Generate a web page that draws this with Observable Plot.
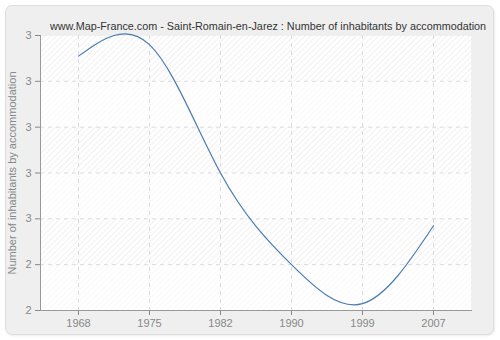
<!DOCTYPE html>
<html>
<head>
<meta charset="utf-8">
<script src="https://cdn.jsdelivr.net/npm/d3@7"></script>
<script src="https://cdn.jsdelivr.net/npm/@observablehq/plot@0.6"></script>
<style>
  html, body { margin: 0; padding: 0; background: #ffffff; }
  #wrap { position: relative; width: 500px; height: 340px; overflow: hidden; }
  #panel { position: absolute; left: 5px; top: 5px; width: 487px; height: 328px;
           background: #efefef; border: 1px solid #dedede; border-radius: 7px;
           box-shadow: 1px 1px 2px rgba(0,0,0,0.08); }
  #chart { position: absolute; left: 0; top: 0; }
</style>
</head>
<body>
<div id="wrap"><div id="panel"></div><div id="chart"></div></div>
<script>
const years = ["1968", "1975", "1982", "1990", "1999", "2007"];
const values = [3.31, 3.36, 2.80, 2.40, 2.23, 2.57];
const yTicks = [2.2, 2.4, 2.6, 2.8, 3.0, 3.2, 3.4];
const yTickLabels = ["2", "2", "3", "3", "3", "3", "3"];
const title = "www.Map-France.com - Saint-Romain-en-Jarez : Number of inhabitants by accommodation";
const yLabel = "Number of inhabitants by accommodation";

const data = years.map((y, i) => ({year: y, value: values[i]}));
const bandsLight = [];
for (let i = 0; i < yTicks.length - 1; i += 2) bandsLight.push({y1: yTicks[i], y2: yTicks[i + 1]});

const font = "'Liberation Sans', Arial, sans-serif";

const chart = Plot.plot({
  width: 500,
  height: 340,
  marginLeft: 40,
  marginRight: 29,
  marginTop: 35,
  marginBottom: 30,
  style: {background: "transparent", fontFamily: font, fontSize: "11px", color: "#888"},
  x: {type: "point", domain: years, padding: 0.5},
  y: {domain: [yTicks[0], yTicks[yTicks.length - 1]]},
  marks: [
    Plot.frame({fill: "#ffffff", stroke: "#e4e4e4"}),
    Plot.frame({fill: "url(#hatch)", stroke: null}),
    Plot.rect(bandsLight, {y1: "y1", y2: "y2", fill: "#ffffff", fillOpacity: 0.55}),
    Plot.gridX({stroke: "#dcdcdc", strokeOpacity: 1, strokeDasharray: "4,4"}),
    Plot.gridY(yTicks.slice(1, -1), {stroke: "#dcdcdc", strokeOpacity: 1, strokeDasharray: "4,4"}),
    Plot.axisX({tickSize: 5, tickPadding: 4, stroke: "#888", color: "#888", label: null, fontSize: 11}),
    Plot.axisY(yTicks, {tickSize: 5, tickPadding: 4, stroke: "#888", color: "#888",
      tickFormat: (d, i) => yTickLabels[i], label: yLabel, labelAnchor: "center",
      labelArrow: "none", labelOffset: 32, fontSize: 11}),
    Plot.frame({anchor: "left", stroke: "#999"}),
    Plot.frame({anchor: "bottom", stroke: "#999"}),
    Plot.line(data, {x: "year", y: "value", stroke: "#4a7db3", strokeWidth: 1.2, curve: "natural"}),
    Plot.text([title], {frameAnchor: "top", dy: -13, dx: 12, fill: "#333", fontSize: 10.8, fontFamily: font})
  ]
});

// hatch pattern definition
const svg = d3.select(chart);
const defs = svg.insert("defs", ":first-child");
const pat = defs.append("pattern").attr("id", "hatch").attr("patternUnits", "userSpaceOnUse")
  .attr("width", 4).attr("height", 4).attr("patternTransform", "rotate(45)");
pat.append("rect").attr("width", 4).attr("height", 4).attr("fill", "#ffffff");
pat.append("line").attr("x1", 0).attr("y1", 0).attr("x2", 0).attr("y2", 4)
  .attr("stroke", "#e8e8e8").attr("stroke-width", 1.2);

document.getElementById("chart").appendChild(chart);
</script>
</body>
</html>
